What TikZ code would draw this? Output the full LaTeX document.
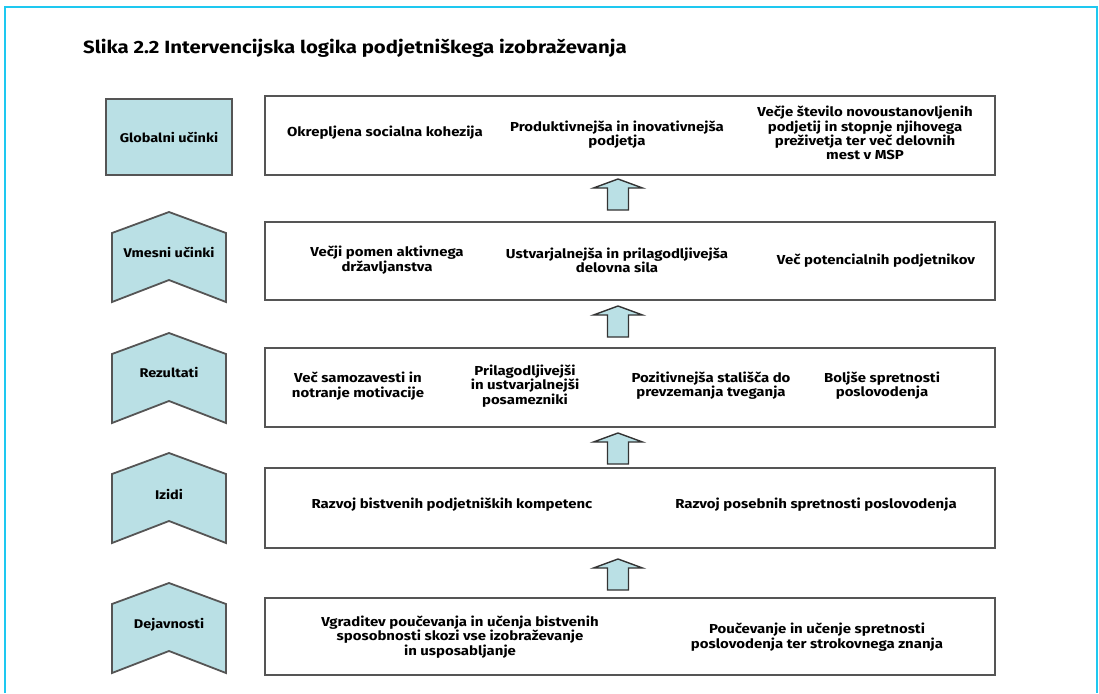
\documentclass[tikz,border=0pt]{standalone}
\usepackage{fontspec}
\setmainfont[FakeStretch=1.15]{Fira Sans}
\usetikzlibrary{calc}
\definecolor{framecyan}{RGB}{30,200,240}
\definecolor{chevfill}{RGB}{186,224,229}
\definecolor{edgegray}{RGB}{85,85,85}
\tikzset{
  frameline/.style={draw=framecyan,line width=2.5pt},
  rowbox/.style={draw=edgegray,line width=2pt,fill=white,minimum width=730pt,inner sep=0pt},
  chev/.style={draw=edgegray,line width=1.8pt,fill=chevfill,line join=miter},
  lbl/.style={font=\fontsize{12.6}{14}\selectfont\bfseries,align=center,inner sep=0pt},
  txt/.style={font=\fontsize{13}{14.3}\selectfont\bfseries,align=center,inner sep=0pt},
  uparr/.style={draw=black!80,line width=1.4pt,fill=chevfill,line join=miter},
}
\newcommand{\uparrowat}[1]{%
  \draw[uparr] ($(#1)+(-10.5,31)$) -- ($(#1)+(-10.5,9)$) -- ($(#1)+(-24.5,9)$) -- (#1)
   -- ($(#1)+(24.5,9)$) -- ($(#1)+(10.5,9)$) -- ($(#1)+(10.5,31)$) -- cycle;}
\newcommand{\chevronat}[2]{% #1 = peak y, #2 = name
  \coordinate (#2) at (169,#1);
  \draw[chev] (112,#1+21) -- (169,#1) -- (226,#1+21) -- (226,#1+90) -- (169,#1+68) -- (112,#1+90) -- cycle;}
\begin{document}
\begin{tikzpicture}[x=1pt,y=-1pt]
\useasboundingbox (0,0) rectangle (1099,693);
\fill[white] (0,0) rectangle (1099,693);
\draw[frameline] (5,693) -- (5,7) -- (1097,7) -- (1097,693);

\node[anchor=west,inner sep=0pt,font=\fontsize{17.7}{20}\selectfont\bfseries] (title) at (83,48) {Slika 2.2 Intervencijska logika podjetniškega izobraževanja};

% left labels
\node[draw=edgegray,line width=1.8pt,fill=chevfill,minimum width=126pt,minimum height=76pt,inner sep=0pt] (gl) at (169,137) {};
\node[lbl] at (gl) {Globalni učinki};
\chevronat{212}{vl}
\node[lbl] at (169,252) {Vmesni učinki};
\chevronat{333}{rl}
\node[lbl] at (169,372) {Rezultati};
\chevronat{453}{il}
\node[lbl] at (169,494) {Izidi};
\chevronat{583}{dl}
\node[lbl] at (169,625) {Dejavnosti};

% row boxes
\node[rowbox,minimum height=79pt] (g) at (630,135.5) {};
\node[rowbox,minimum height=78pt] (v) at (630,261) {};
\node[rowbox,minimum height=79pt] (r) at (630,387.5) {};
\node[rowbox,minimum height=80pt] (i) at (630,508) {};
\node[rowbox,minimum height=77pt] (d) at (630,636.5) {};

% arrows
\coordinate (a1) at ($(g.south)+(-12,3)$);
\coordinate (a2) at ($(v.south)+(-12,5)$);
\coordinate (a3) at ($(r.south)+(-12,5)$);
\coordinate (a4) at ($(i.south)+(-12,10)$);
\uparrowat{a1}
\uparrowat{a2}
\uparrowat{a3}
\uparrowat{a4}

% texts
\node[txt] at (385,133) {Okrepljena socialna kohezija};
\node[txt] at (617,135) {Produktivnejša in inovativnejša\\podjetja};
\node[txt] at (865,133) {Večje število novoustanovljenih\\podjetij in stopnje njihovega\\preživetja ter več delovnih\\mest v MSP};

\node[txt] at (387,260) {Večji pomen aktivnega\\državljanstva};
\node[txt] at (617,260) {Ustvarjalnejša in prilagodljivejša\\delovna sila};
\node[txt] at (876,261) {Več potencialnih podjetnikov};

\node[txt] at (358,386) {Več samozavesti in\\notranje motivacije};
\node[txt] at (525,386) {Prilagodljivejši\\in ustvarjalnejši\\posamezniki};
\node[txt] at (711,386) {Pozitivnejša stališča do\\prevzemanja tveganja};
\node[txt] at (882,386) {Boljše spretnosti\\poslovodenja};

\node[txt] at (452,505) {Razvoj bistvenih podjetniških kompetenc};
\node[txt] at (816,505) {Razvoj posebnih spretnosti poslovodenja};

\node[txt] at (460,637) {Vgraditev poučevanja in učenja bistvenih\\sposobnosti skozi vse izobraževanje\\in usposabljanje};
\node[txt] at (817,637) {Poučevanje in učenje spretnosti\\poslovodenja ter strokovnega znanja};
\end{tikzpicture}
\end{document}
